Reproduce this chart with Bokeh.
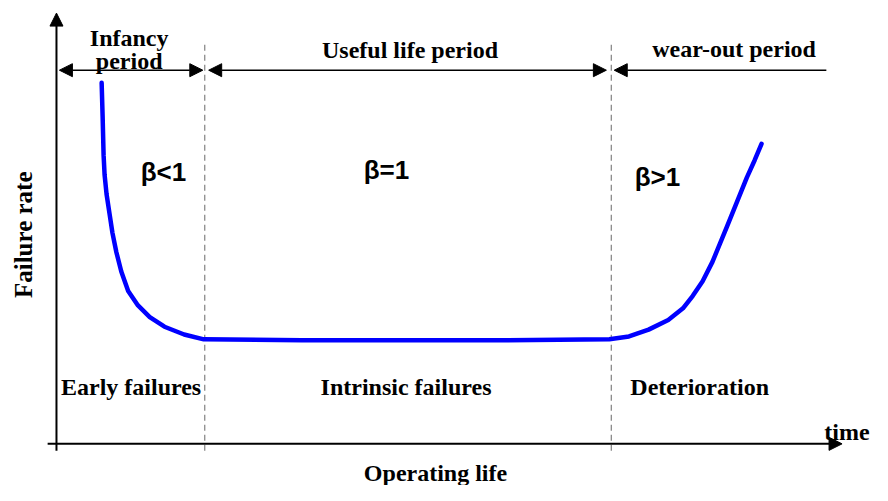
import math
from bokeh.plotting import figure
from bokeh.models import Range1d, Arrow, NormalHead
from bokeh.core.properties import value
from bokeh.embed import file_html
from bokeh.resources import INLINE

# ---- data (diagram units: origin at the axes' crossing) ----
curve_t = [46, 47, 48, 49, 51, 54, 57, 61, 66, 73, 83, 95, 110, 130, 150,
           250, 350, 450, 563, 583, 603, 623, 638, 648, 658, 668, 683, 693, 703, 711, 718]
curve_rate = [373, 338, 298, 278, 258, 238, 218, 198, 178, 158, 143, 131, 121, 113, 108,
              107, 107, 107, 108, 111, 118, 128, 140, 153, 168, 188, 225, 250, 275, 293, 310]

boundaries_t = [151, 565]
boundary_rate_lo, boundary_rate_hi = -7, 413

period_labels = [["Infancy", "period"], ["Useful life period"], ["wear-out period"]]
period_label_t = [74, 360, 690]
period_label_rate = [[419, 396], [407], [408]]

period_arrow_rate = 386
period_arrows_start = [3, 155, 568]
period_arrows_end = [149, 560, 784]
period_arrow_heads = ["both", "both", "start"]

beta_labels = ["β<1", "β=1", "β>1"]
beta_t = [109, 336, 612]
beta_rate = [281, 283, 276]

failure_labels = ["Early failures", "Intrinsic failures", "Deterioration"]
failure_t = [76, 356, 655]
failure_rate = [59, 59, 59]

x_axis_start, x_axis_end = -9, 800
y_axis_start, y_axis_end = -7, 445

# ---- figure ----
p = figure(width=872, height=485, output_backend="svg", toolbar_location=None,
           x_range=Range1d(-57, 831), y_range=Range1d(-43, 458),
           min_border=0, min_border_left=0, min_border_right=0,
           min_border_top=0, min_border_bottom=0)
p.axis.visible = False
p.grid.visible = False
p.outline_line_color = None
p.background_fill_color = "white"
p.border_fill_color = "white"

serif = value("Liberation Serif")
sans = value("Liberation Sans")

# boundaries (dashed)
p.segment(x0=boundaries_t, y0=[boundary_rate_lo] * 2, x1=boundaries_t, y1=[boundary_rate_hi] * 2,
          line_color="#808080", line_width=1.2, line_dash="6 4")

# axes with arrow heads
p.add_layout(Arrow(end=NormalHead(size=13, fill_color="black", line_color="black"), start=None,
                   x_start=0, y_start=y_axis_start, x_end=0, y_end=y_axis_end,
                   line_color="black", line_width=2))
p.add_layout(Arrow(end=NormalHead(size=13, fill_color="black", line_color="black"), start=None,
                   x_start=x_axis_start, y_start=0, x_end=x_axis_end, y_end=0,
                   line_color="black", line_width=2))

# period arrows
for xs, xe, heads in zip(period_arrows_start, period_arrows_end, period_arrow_heads):
    start = NormalHead(size=13, fill_color="black", line_color="black")
    end = NormalHead(size=13, fill_color="black", line_color="black") if heads == "both" else None
    p.add_layout(Arrow(start=start, end=end, x_start=xs, y_start=period_arrow_rate,
                       x_end=xe, y_end=period_arrow_rate, line_color="black", line_width=1.5))

# bathtub curve
p.line(curve_t, curve_rate, line_color="#0000FF", line_width=4.5, line_join="round", line_cap="round")

# period labels
for lines, t, rates in zip(period_labels, period_label_t, period_label_rate):
    p.text(x=[t] * len(lines), y=rates, text=lines, text_font=serif, text_font_style="bold",
           text_font_size="24px", text_align="center", text_baseline="alphabetic", text_color="black")

# beta labels
p.text(x=beta_t, y=beta_rate, text=beta_labels, text_font=sans, text_font_style="bold",
       text_font_size="26px", text_align="center", text_baseline="alphabetic", text_color="black")

# failure labels
p.text(x=failure_t, y=failure_rate, text=failure_labels, text_font=serif, text_font_style="bold",
       text_font_size="24px", text_align="center", text_baseline="alphabetic", text_color="black")

# axis titles
p.text(x=[828], y=[12], text=["time"], text_font=serif, text_font_style="bold",
       text_font_size="24px", text_align="right", text_baseline="alphabetic")
p.text(x=[386], y=[-30], text=["Operating life"], text_font=serif, text_font_style="bold",
       text_font_size="24px", text_align="center", text_baseline="alphabetic")
p.text(x=[-34], y=[216], text=["Failure rate"], text_font=serif, text_font_style="bold",
       text_font_size="25px", text_align="center", text_baseline="middle", angle=math.pi / 2)

open("out.html", "w").write(file_html(p, INLINE))
